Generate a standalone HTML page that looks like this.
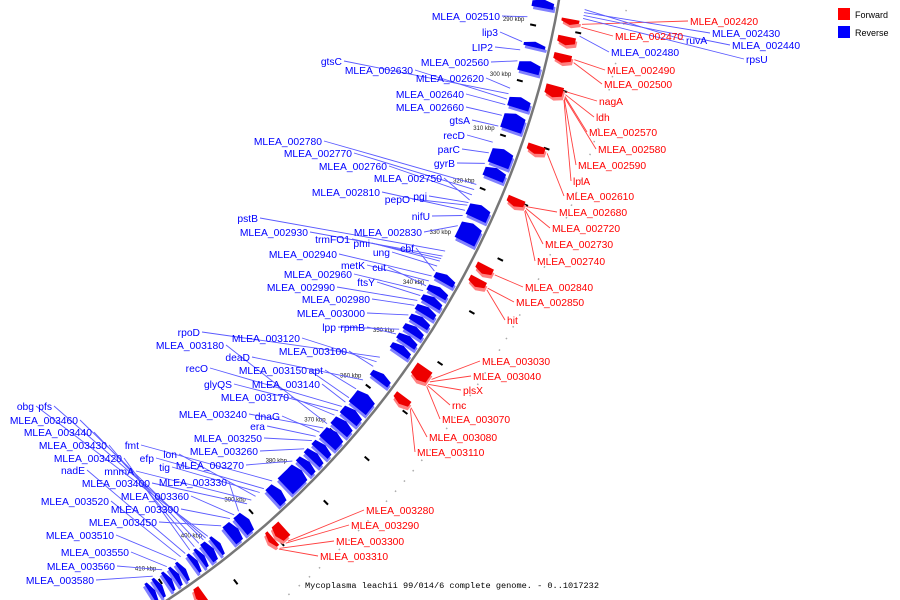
<!DOCTYPE html>
<html><head><meta charset="utf-8"><style>
html,body{margin:0;padding:0;background:#fff;width:900px;height:600px;overflow:hidden;}
svg{display:block;font-family:"Liberation Sans",sans-serif;overflow:hidden;}
</style></head><body>
<svg id="chart" width="900" height="600" viewBox="0 0 900 600" xmlns="http://www.w3.org/2000/svg">
<g id="bg"></g>
<g id="ticks"></g>
<g id="lines"></g>
<g id="genes"></g>
<g id="labels"></g>
<g>
<rect x="838" y="8" width="12" height="12" fill="#f00"/>
<text x="855" y="18" font-size="9">Forward</text>
<rect x="838" y="26" width="12" height="12" fill="#00f"/>
<text x="855" y="36" font-size="9">Reverse</text>
</g>
<text x="452" y="588" text-anchor="middle" font-family="Liberation Mono, monospace" font-size="8.6">Mycoplasma leachii 99/014/6 complete genome. - 0..1017232</text>
</svg>
<script>
const tickKbp = [290,300,310,320,330,340,350,360,370,380,390,400,410];
const redStart = [288,291,294,299.5,310,319.5,332,334.5,352,358,388,390.5,405.5];
const redEnd   = [289,292.5,295.5,301.5,311.5,321,333.5,336,354.5,359.5,390,391.5,407];
const blueStart = [285.5,293,296.5,303,306,312.5,316,323,326.5,336.5,339,341,343,345,347,349,351,357,361.5,365,367.5,370,373,375,377,379,384,391.5,394,398,399.5,401.5,403,405.5,407,408.5,410.5,412];
const blueEnd   = [287,294,298.5,305,309,315.5,318,325.5,330,338,340.5,342.5,344.5,346.5,348.5,350.5,352.5,358.5,364.5,367,369.5,372.5,374.5,376.5,378.5,383,386,393.5,396,399,401,402.5,404,406.5,408,409.5,411.5,413];
const labelText = ["MLEA_002510","lip3","LIP2","MLEA_002560","gtsC","MLEA_002630","MLEA_002620","MLEA_002640","MLEA_002660","gtsA","recD","parC","gyrB","MLEA_002780","MLEA_002770","MLEA_002760","MLEA_002750","MLEA_002810","pepO","pgi","nifU","pstB","MLEA_002930","MLEA_002830","trmFO1","pmi","ung","cbf","MLEA_002940","metK","cut","MLEA_002960","ftsY","MLEA_002990","MLEA_002980","MLEA_003000","lpp","rpmB","rpoD","MLEA_003180","MLEA_003120","MLEA_003100","deaD","apt","recO","MLEA_003150","glyQS","MLEA_003140","MLEA_003170","obg","pfs","MLEA_003460","MLEA_003240","dnaG","era","MLEA_003440","MLEA_003430","fmt","efp","MLEA_003250","MLEA_003420","MLEA_003260","lon","nadE","mnmA","tig","MLEA_003270","MLEA_003400","MLEA_003330","MLEA_003360","MLEA_003520","MLEA_003390","MLEA_003450","MLEA_003510","MLEA_003550","MLEA_003560","MLEA_003580",
"MLEA_002420","MLEA_002470","ruvA","MLEA_002430","MLEA_002440","rpsU","MLEA_002480","MLEA_002490","MLEA_002500","nagA","ldh","MLEA_002570","MLEA_002580","MLEA_002590","lplA","MLEA_002610","MLEA_002680","MLEA_002720","MLEA_002730","MLEA_002740","MLEA_002840","MLEA_002850","hit","MLEA_003030","MLEA_003040","plsX","rnc","MLEA_003070","MLEA_003080","MLEA_003110","MLEA_003280","MLEA_003290","MLEA_003300","MLEA_003310"];
const labelKbp = [289,293.5,295,297,303,304,302,305,307,309,312,314,316,320,321,322,323,325,324,323.5,326,333,334,328,334.5,335,336,337,338,339,340,341,342,343,344,346,349,350,355,370,356,357,360,362,366,364,367,365,368,399,399.5,400,371,372,373,401,402,384,386,374,403,376,388,404,389,387,379,390,392,393,405,394,396,406,408,409,411,
288.5,289,286,286.5,287,287.5,290.5,294.5,295,300,300.5,300.8,301,301.2,301.4,310.7,320.2,320.5,320.8,321,332.7,335.2,335.5,353,353.5,354,354.2,354.4,358.8,359,389,389.5,390.8,391];
const labelStrand = "BBBBBBBBBBBBBBBBBBBBBBBBBBBBBBBBBBBBBBBBBBBBBBBBBBBBBBBBBBBBBBBBBBBBBBBBBBBBB"+"RRbbbbbRRRRRRRRRRRRRRRRRRRRRRRRRRRRR";
/* label anchor layout (x = text end for left labels, text start for right labels; y = baseline) */
const labelLayout = [[500,20],[498,36],[493,51],[489,66],[342,65],[413,74],[484,82],[464,98],[464,111],[470,124],[465,139],[460,153],[455,167],[322,145],[352,157],[387,170],[442,182],[380,196],[410,203],[427,200],[430,220],[258,222],[308,236],[422,236],[350,243],[370,247],[390,256],[414,252],[337,258],[365,269],[386,271],[352,278],[375,286],[335,291],[370,303],[365,317],[336,331],[365,331],[200,336],[224,349],[300,342],[347,355],[250,361],[323,374],[208,372],[307,374],[232,388],[320,388],[289,401],[34,410],[52,410],[78,424],[247,418],[280,420],[265,430],[92,436],[107,449],[139,449],[154,462],[262,442],[122,462],[258,455],[177,458],[85,474],[134,475],[170,471],[244,469],[150,487],[227,486],[189,500],[109,505],[179,513],[157,526],[114,539],[129,556],[115,570],[94,584],
[690,25],[615,40],[686,44],[712,37],[732,49],[746,63],[611,56],[607,74],[604,88],[599,105],[596,121],[589,136],[598,153],[578,169],[573,185],[566,200],[559,216],[552,232],[545,248],[537,265],[525,291],[516,306],[507,324],[482,365],[473,380],[463,394],[452,409],[442,423],[429,441],[417,456],[366,514],[351,529],[336,545],[320,560]];

const NS="http://www.w3.org/2000/svg";
const CX=-331, CY=-153, R=903;
function ang(k){return (11.55+(k-290)*0.371)*Math.PI/180;}
function pt(k,r){const a=ang(k);return [CX+r*Math.cos(a),CY+r*Math.sin(a)];}
function mk(tag,attrs,parent){const e=document.createElementNS(NS,tag);for(const k in attrs)e.setAttribute(k,attrs[k]);parent.appendChild(e);return e;}

const bg=document.getElementById('bg');
let d="";for(let k=272;k<=418;k+=1){const p=pt(k,R);d+=(k===272?"M":"L")+p[0].toFixed(1)+","+p[1].toFixed(1);}
const bb=mk('path',{d:d,fill:'none',stroke:'#777','stroke-width':2.5},bg);


let d2="";for(let k=272;k<=418;k+=1){const p=pt(k,R+68);d2+=(k===272?"M":"L")+p[0].toFixed(1)+","+p[1].toFixed(1);}
const dc=mk('path',{d:d2,fill:'none',stroke:'#aaa','stroke-width':1.5,'stroke-dasharray':'1.5 12'},bg);



const tg=document.getElementById('ticks');
tickKbp.forEach(k=>{
  const a=pt(k,R-22),b=pt(k,R-16);
  const t1=mk('line',{x1:a[0]-2,y1:a[1]+1,x2:b[0]-2,y2:b[1]+1,stroke:'#000','stroke-width':2},tg);
  
  
  const c=pt(k,R+22),e=pt(k,R+28);
  const t2=mk('line',{x1:c[0],y1:c[1],x2:e[0],y2:e[1],stroke:'#000','stroke-width':2},tg);
  
  
  const p=pt(k,R-30);
  const tx=mk('text',{x:p[0],y:p[1]-1,'text-anchor':'end','font-size':6,fill:'#222'},tg);
  tx.textContent=k+' kbp';
  
  
});

const gg=document.getElementById('genes');
function genePath(s,e,r0,r1,rev){
  const pts=[];const tipK=rev?s:e;const bodyS=rev?s+0.5:s, bodyE=rev?e:e-0.5;
  const n=6;
  for(let i=0;i<=n;i++){pts.push(pt(bodyS+(bodyE-bodyS)*i/n,r1));}
  if(!rev)pts.push(pt(tipK,(r0+r1)/2));
  for(let i=n;i>=0;i--){pts.push(pt(bodyS+(bodyE-bodyS)*i/n,r0));}
  if(rev)pts.push(pt(tipK,(r0+r1)/2));
  return pts.map(p=>p[0].toFixed(1)+","+p[1].toFixed(1)).join(" ");
}
function drawGene(s,e,rev,i){
  const r0=rev?R-26:R+6, r1=rev?R-4:R+24;
  const sh=mk('polygon',{points:genePath(s+0.5,e+0.5,r0+2,r1+2,rev),fill:rev?'#8080ff':'#ff8080'},gg);
  
  
  const g=mk('polygon',{points:genePath(s,e,r0,r1,rev),fill:rev?'#0000ee':'#ee0000'},gg);
  
  
}
redStart.forEach((s,i)=>drawGene(s,redEnd[i],false,i));
blueStart.forEach((s,i)=>drawGene(s,blueEnd[i],true,i));

const lg=document.getElementById('labels'), ll=document.getElementById('lines');
labelText.forEach((t,i)=>{
  const st=labelStrand[i], pos=labelLayout[i], k=labelKbp[i];
  const left=(st==='B');
  const blue=(st==='B'||st==='b');
  const col=blue?'#0000ff':'#ff0000', lcol=blue?'#5a5aff':'#ff4040';
  const tx=mk('text',{x:pos[0],y:pos[1],'text-anchor':left?'end':'start','font-size':10.3,fill:col},lg);
  tx.textContent=t;
  
  
  const g=left?pt(k,R-28):pt(k,R+27);
  const lx=left?pos[0]+2:pos[0]-2;
  const ln=mk('line',{x1:lx,y1:pos[1]-4,x2:g[0],y2:g[1],stroke:lcol,'stroke-width':0.9},ll);
  
  
});
</script>
</body></html>
